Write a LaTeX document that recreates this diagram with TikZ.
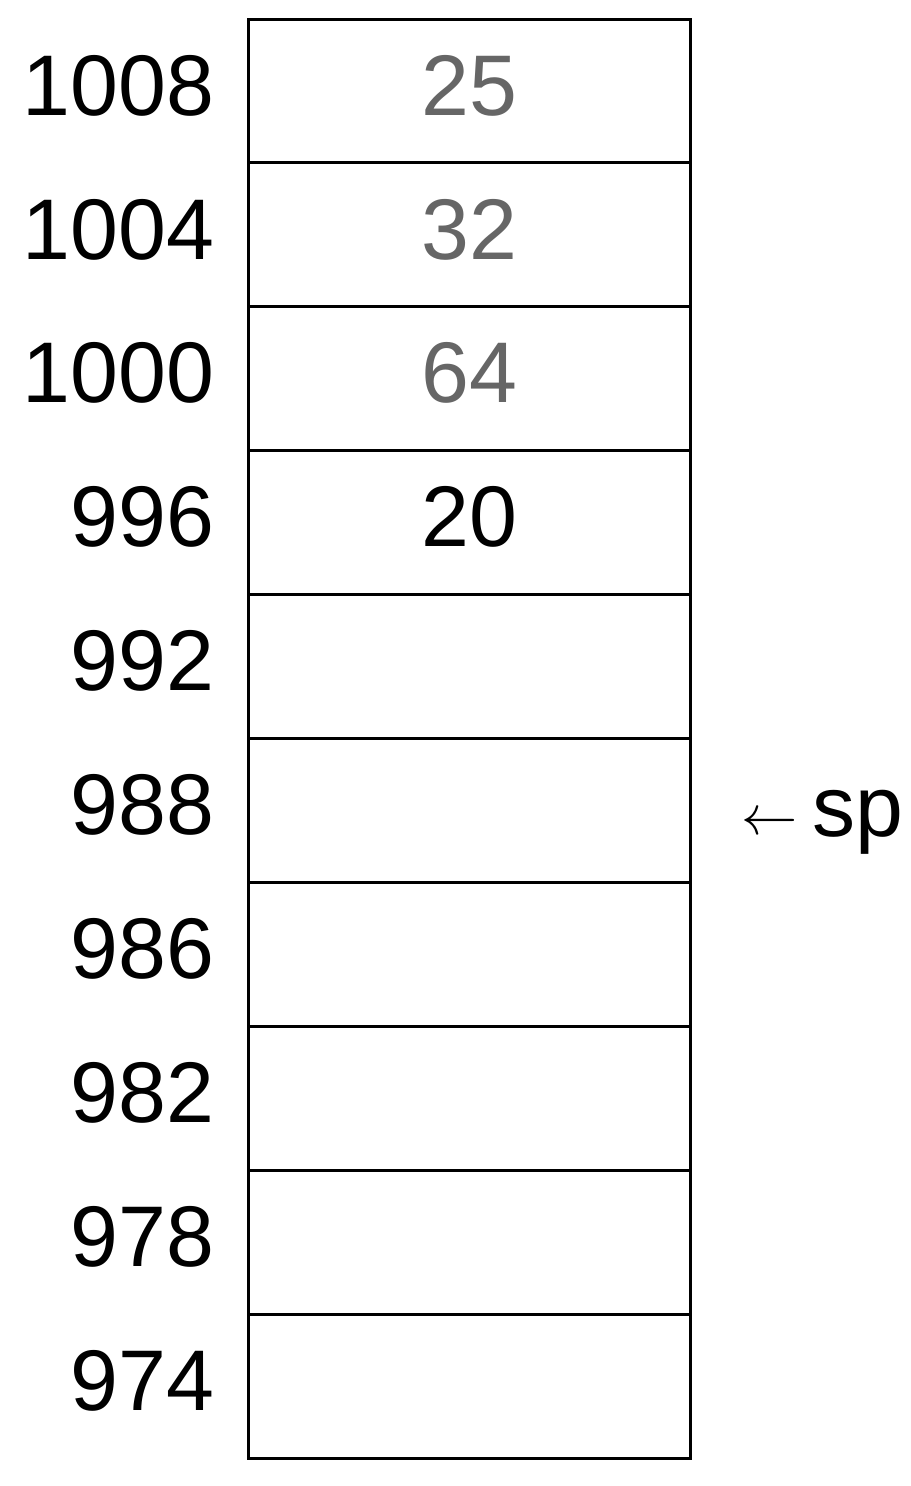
\documentclass[tikz,border=0pt]{standalone}
\usepackage{fontspec}
\setmainfont{Liberation Sans}
\usetikzlibrary{positioning}
\definecolor{oldval}{RGB}{102,102,102}
\tikzset{
  cell/.style={draw, line width=0.06cm, minimum width=8.86cm, minimum height=2.878cm, inner sep=0pt},
  val/.style={inner sep=0pt, yshift=0.11cm, font=\fontsize{49}{49}\selectfont},
  addr/.style={inner sep=0pt, yshift=0.11cm, font=\fontsize{49}{49}\selectfont},
}
\newcommand{\sparrow}{{\fontsize{10}{12}\selectfont\raisebox{0.04cm}{\scalebox{3.2}{$\leftarrow$}}}}
\begin{document}
\begin{tikzpicture}[x=0.02cm, y=-0.02cm]
    \useasboundingbox (0,0) rectangle (911,1486);
    % stack cells, top to bottom
    \foreach \a/\v/\c [count=\i from 0] in {1008/25/oldval, 1004/32/oldval, 1000/64/oldval,
        996/20/black, 992//black, 988//black, 986//black, 982//black, 978//black, 974//black}
    {
        \node[cell] (c\i) at (469.5, 91+\i*143.9) {};
        \node[val, text=\c] (v\i) at (c\i) {\v};
        \node[addr, left=0.64cm of c\i] (a\i) {\a};
    }
    \node[addr, right=0.98cm of c5, anchor=base west, yshift=-0.63cm] (sp)
        {\sparrow\hspace{0.28cm}sp};
\end{tikzpicture}
\end{document}
